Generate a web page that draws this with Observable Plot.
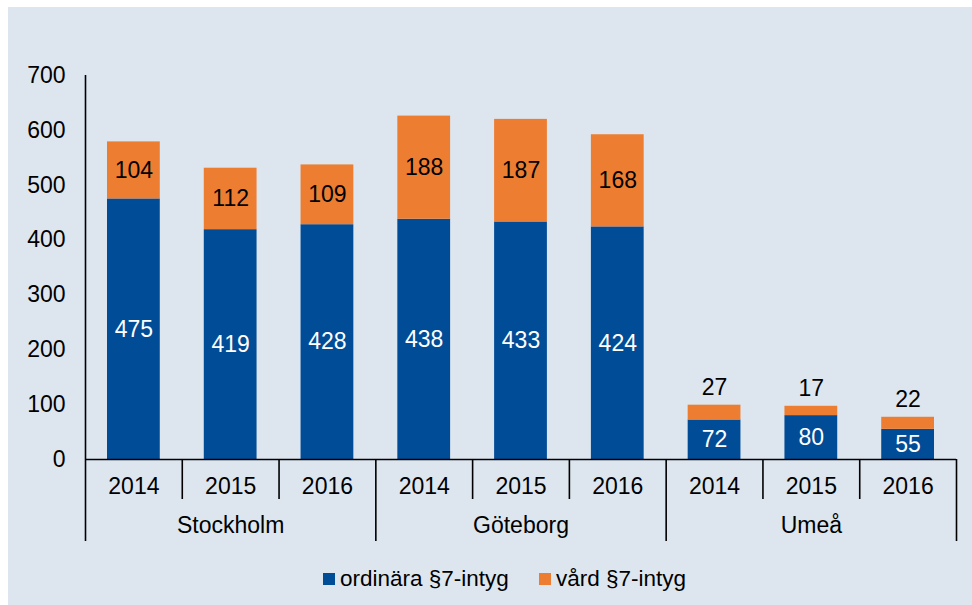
<!DOCTYPE html>
<html><head><meta charset="utf-8">
<script src="https://cdn.jsdelivr.net/npm/d3@7"></script>
<script src="https://cdn.jsdelivr.net/npm/@observablehq/plot@0.6"></script>
<style>
body{margin:0;background:#fff;}
#wrap{position:absolute;left:8px;top:7px;width:964px;height:598px;background:#dde6ef;font-family:"Liberation Sans",Arial,sans-serif;overflow:hidden;}
#chart{position:absolute;left:0;top:0;}
.item{position:absolute;top:559px;height:26px;display:flex;align-items:center;font-size:22.5px;color:#000;line-height:26px;}
.sw{width:12px;height:12px;margin-right:5px;}
</style></head><body>
<div id="wrap"><div id="chart"></div><div id="legend"></div></div>
<script>
const cities = ["Stockholm", "Göteborg", "Umeå"];
const years = ["2014", "2015", "2016"];
const ordinara = [475, 419, 428, 438, 433, 424, 72, 80, 55];
const vard = [104, 112, 109, 188, 187, 168, 27, 17, 22];
const yTicks = [0, 100, 200, 300, 400, 500, 600, 700];
const seriesNames = ["ordinära §7-intyg", "vård §7-intyg"];
const colors = ["#004c97", "#ed7d31"];

const rows = [];
cities.forEach((c, ci) => years.forEach((y, yi) => {
  const i = ci * years.length + yi;
  rows.push({city: c, year: y, i, series: seriesNames[0], value: ordinara[i], y1: 0, y2: ordinara[i]});
  rows.push({city: c, year: y, i, series: seriesNames[1], value: vard[i], y1: ordinara[i], y2: ordinara[i] + vard[i]});
}));
const ordRows = rows.filter(d => d.series === seriesNames[0]);
const vardRows = rows.filter(d => d.series === seriesNames[1]);
const n = cities.length * years.length;
const bounds = d3.range(0, n + 1);
const cityIdx = cities.map((c, ci) => ({city: c, ci}));

const chart = Plot.plot({
  width: 964, height: 545,
  marginLeft: 77, marginRight: 16, marginTop: 68, marginBottom: 93,
  x: {domain: [0, n], axis: null},
  y: {domain: [0, d3.max(yTicks)], axis: null},
  color: {domain: seriesNames, range: colors},
  style: {background: "transparent", fontSize: "23px", fontFamily: "'Liberation Sans', Arial, sans-serif", color: "#000", overflow: "visible"},
  marks: [
    Plot.rectY(rows, {x1: "i", x2: d => d.i + 1, y1: "y1", y2: "y2", fill: "series", insetLeft: 22, insetRight: 22}),
    Plot.text(ordRows, {x: d => d.i + 0.5, y: d => d.value / 2, text: "value", fill: "white"}),
    Plot.text(vardRows.filter(d => d.value >= 50), {x: d => d.i + 0.5, y: d => (d.y1 + d.y2) / 2, text: "value", fill: "black"}),
    Plot.text(vardRows.filter(d => d.value < 50), {x: d => d.i + 0.5, y: "y2", dy: -18, text: "value", fill: "black"}),
    Plot.axisY(yTicks, {tickSize: 0, tickPadding: 20, label: null}),
    Plot.ruleX([0], {y1: 0, y2: d3.max(yTicks), stroke: "black", strokeWidth: 1.6}),
    Plot.ruleY([0], {stroke: "black", strokeWidth: 1.6}),
    Plot.ruleX(bounds.filter(b => b % years.length !== 0), {x: d => d, y1: 0, y2: 0, insetBottom: -40, stroke: "black", strokeWidth: 1.6}),
    Plot.ruleX(bounds.filter(b => b % years.length === 0), {x: d => d, y1: 0, y2: 0, insetBottom: -82, stroke: "black", strokeWidth: 1.6}),
    Plot.text(ordRows, {x: d => d.i + 0.5, y: 0, dy: 27, text: "year", fill: "black"}),
    Plot.text(cityIdx, {x: d => d.ci * years.length + years.length / 2, y: 0, dy: 66, text: "city", fill: "black"})
  ]
});
document.getElementById("chart").appendChild(chart);

const legend = document.getElementById("legend");
const lefts = [315, 531];
seriesNames.forEach((s, k) => {
  const it = document.createElement("div");
  it.className = "item";
  it.style.left = lefts[k] + "px";
  it.innerHTML = `<span class="sw" style="background:${colors[k]}"></span><span>${s}</span>`;
  legend.appendChild(it);
});
</script>
</body></html>
